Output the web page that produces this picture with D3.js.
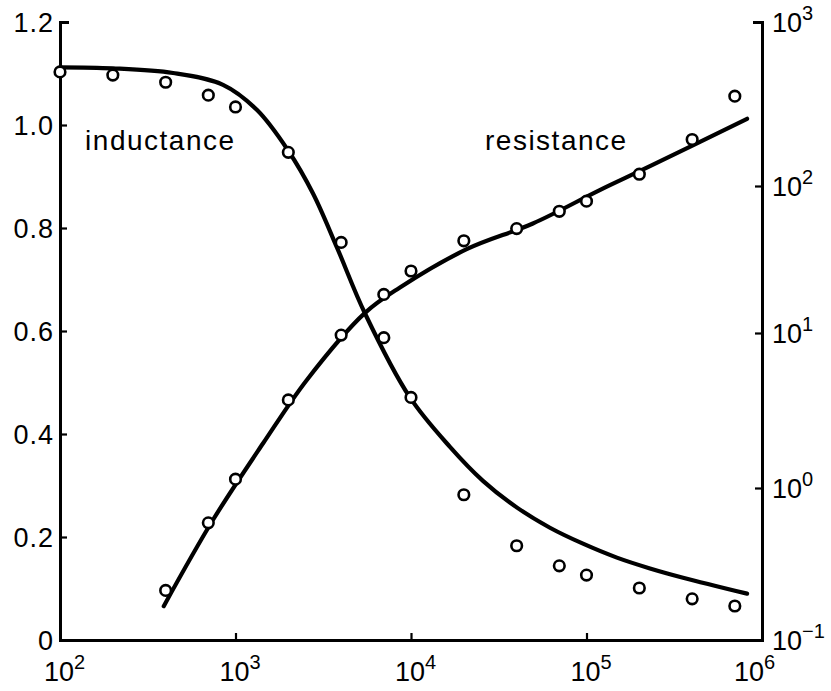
<!DOCTYPE html>
<html>
<head>
<meta charset="utf-8">
<script src="https://cdn.jsdelivr.net/npm/d3@7"></script>
<style>
  html, body { margin: 0; padding: 0; background: #fff; }
  svg { display: block; }
  text { font-family: "Liberation Sans", Arial, Helvetica, sans-serif; fill: #000; }
</style>
</head>
<body>
<svg id="chart" width="831" height="691"></svg>
<script>
// ---- data ----
const freqTicks = [1e2, 1e3, 1e4, 1e5, 1e6];
const freqTickExp = ["2", "3", "4", "5", "6"];
const leftTicks = [0, 0.2, 0.4, 0.6, 0.8, 1.0, 1.2];
const rightTicks = [0.1, 1, 10, 100, 1000];
const rightTickExp = ["\u22121", "0", "1", "2", "3"];

// inductance measured points (frequency, relative inductance)
const indFreq = [100, 200, 400, 700, 1000, 2000, 4000, 7000, 10000, 20000, 40000, 70000, 100000, 200000, 400000, 700000];
const indValue = [1.103, 1.097, 1.083, 1.058, 1.035, 0.947, 0.772, 0.587, 0.471, 0.282, 0.183, 0.144, 0.126, 0.101, 0.080, 0.066];

// inductance curve (frequency, relative inductance)
const indCurveFreq = [100, 200, 441, 849, 1327, 1990, 2765, 3788, 5470, 9860, 16670, 25700, 40200, 61900, 95500, 149000, 230000, 355000, 822000];
const indCurveValue = [1.112, 1.110, 1.101, 1.078, 1.029, 0.951, 0.867, 0.762, 0.634, 0.471, 0.375, 0.309, 0.257, 0.218, 0.187, 0.160, 0.139, 0.121, 0.090];

// resistance measured points (frequency, resistance)
const resFreq = [400, 700, 1000, 2000, 4000, 7000, 10000, 20000, 40000, 70000, 100000, 200000, 400000, 700000];
const resValue = [0.212, 0.59, 1.14, 3.70, 9.7, 18.3, 26.4, 42.4, 51.3, 67.3, 78.9, 118, 192, 353];

// resistance curve (frequency, resistance)
const resCurveFreq = [390, 745, 1440, 2550, 5470, 8650, 20900, 49500, 119000, 230000, 822000];
const resCurveValue = [0.167, 0.618, 1.95, 4.98, 13.7, 20.4, 37.3, 55.6, 93.8, 132, 257];

const labels = [
  { text: "inductance", f: 139, v: 0.951 },
  { text: "resistance", f: 26400, v: 0.951 }
];

// ---- scales ----
const svg = d3.select("#chart");
svg.append("rect").attr("width", 831).attr("height", 691).attr("fill", "#fff");

const x = d3.scaleLog().domain([1e2, 1e6]).range([60, 762]);
const yL = d3.scaleLinear().domain([0, 1.2]).range([640, 22]);
const yR = d3.scaleLog().domain([0.1, 1, 10, 100, 1000]).range([640, 488, 333, 186, 22]);

function setPow(sel, exps, es, rise) {
  sel.each(function(d, i) {
    const t = d3.select(this);
    t.text(null);
    t.append("tspan").text("10");
    t.append("tspan").attr("font-size", es).attr("dy", -rise).text(exps[i]);
  });
}

// ---- axes ----
const fs = 27;
const gL = svg.append("g").attr("transform", "translate(60,0)")
  .call(d3.axisLeft(yL).tickValues(leftTicks).tickSize(-7).tickSizeOuter(-9).tickPadding(7)
        .tickFormat(d => d === 0 ? "0" : d3.format(".1f")(d)));
gL.selectAll("text").attr("font-size", fs).attr("letter-spacing", 1).attr("dy", "0.36em").attr("dx", 1);

const gB = svg.append("g").attr("transform", "translate(0,640)")
  .call(d3.axisBottom(x).tickValues(freqTicks).tickSize(-7).tickSizeOuter(0));
gB.selectAll("text").attr("font-size", fs).attr("y", 0).attr("dy", 41)
  .attr("dx", (d, i) => i === freqTicks.length - 1 ? -8 : 4).attr("text-anchor", "middle");
setPow(gB.selectAll("text"), freqTickExp, 20, 12);

const gR = svg.append("g").attr("transform", "translate(762,0)")
  .call(d3.axisRight(yR).tickValues(rightTicks).tickSize(-7).tickSizeOuter(-9).tickPadding(10));
gR.selectAll("text").attr("font-size", fs).attr("dy", "0.36em");
setPow(gR.selectAll("text"), rightTickExp, 20, 12);

[gL, gB, gR].forEach(g => {
  g.select(".domain").attr("stroke", "#000").attr("stroke-width", 3).attr("fill", "none");
  g.selectAll(".tick line").attr("stroke", "#000").attr("stroke-width", 2.2);
});

// ---- curves ----
const indCurve = indCurveFreq.map((f, i) => [f, indCurveValue[i]]);
const resCurve = resCurveFreq.map((f, i) => [f, resCurveValue[i]]);

svg.append("path").datum(indCurve)
  .attr("d", d3.line().x(d => x(d[0])).y(d => yL(d[1])).curve(d3.curveCatmullRom.alpha(0.5)))
  .attr("fill", "none").attr("stroke", "#000").attr("stroke-width", 4.2).attr("stroke-linecap", "round");

svg.append("path").datum(resCurve)
  .attr("d", d3.line().x(d => x(d[0])).y(d => yR(d[1])).curve(d3.curveCatmullRom.alpha(0.5)))
  .attr("fill", "none").attr("stroke", "#000").attr("stroke-width", 4.2).attr("stroke-linecap", "round");

// ---- points ----
svg.append("g").selectAll("circle")
  .data(indFreq.map((f, i) => [f, indValue[i]]))
  .join("circle")
  .attr("cx", d => x(d[0])).attr("cy", d => yL(d[1])).attr("r", 5.3)
  .attr("fill", "#fff").attr("stroke", "#000").attr("stroke-width", 2.6);

svg.append("g").selectAll("circle")
  .data(resFreq.map((f, i) => [f, resValue[i]]))
  .join("circle")
  .attr("cx", d => x(d[0])).attr("cy", d => yR(d[1])).attr("r", 5.3)
  .attr("fill", "#fff").attr("stroke", "#000").attr("stroke-width", 2.6);

// ---- labels ----
svg.append("g").selectAll("text")
  .data(labels)
  .join("text")
  .attr("x", d => x(d.f)).attr("y", d => yL(d.v))
  .attr("font-size", 28).attr("letter-spacing", 1.5)
  .text(d => d.text);
</script>
</body>
</html>
